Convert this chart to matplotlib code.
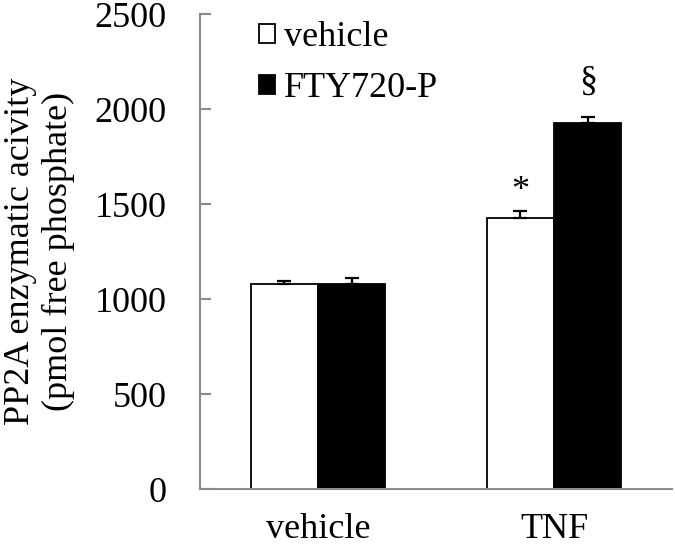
import matplotlib
matplotlib.use("Agg")
import matplotlib.pyplot as plt
import matplotlib.patches as mpatches
import numpy as np

categories = ["vehicle", "TNF"]
series_names = ["vehicle", "FTY720-P"]
vehicle_vals = [1080, 1426]
vehicle_err = [15, 39]
fty_vals = [1080, 1926]
fty_err = [34, 35]
marks_vehicle = ["", "*"]
marks_fty = ["", "§"]
yticks = [0, 500, 1000, 1500, 2000, 2500]

plt.rcParams['font.family'] = ['Liberation Serif', 'DejaVu Serif']
FS = 26
AX_GRAY = '#8a8a8a'

fig = plt.figure(figsize=(6.75, 5.48), dpi=100)
ax = fig.add_axes([200/675, 1-489.3/548, 472/675, (489.3-14.3)/548])

x = np.arange(len(categories))
w = 0.286
ax.bar(x - w/2, vehicle_vals, w, color='white', edgecolor='black', linewidth=1.3, zorder=2)
ax.bar(x + w/2, fty_vals, w, color='black', edgecolor='black', linewidth=1.3, zorder=2)
ax.errorbar(x - w/2, vehicle_vals, yerr=[np.zeros(len(x)), vehicle_err], fmt='none',
            ecolor='black', elinewidth=1.6, capsize=5, capthick=1.6, zorder=3)
ax.errorbar(x + w/2, fty_vals, yerr=[np.zeros(len(x)), fty_err], fmt='none',
            ecolor='black', elinewidth=1.6, capsize=5, capthick=1.6, zorder=3)

for xi, v, e, m in zip(x - w/2, vehicle_vals, vehicle_err, marks_vehicle):
    if m:
        ax.annotate(m, (xi, v + e), xytext=(0, 2), textcoords='offset points',
                    ha='center', va='bottom', fontsize=FS)
for xi, v, e, m in zip(x + w/2, fty_vals, fty_err, marks_fty):
    if m:
        ax.annotate(m, (xi, v + e), xytext=(0, 14), textcoords='offset points',
                    ha='center', va='bottom', fontsize=FS)

ax.set_xlim(-0.5, 1.5)
ax.set_ylim(0, 2500)
ax.set_yticks(yticks)
ax.set_yticklabels([str(t) for t in yticks], fontsize=FS)
ax.set_xticks(x)
ax.set_xticklabels(categories, fontsize=FS)
ax.tick_params(axis='y', direction='in', length=8, width=1.5, color=AX_GRAY, pad=24)
ax.tick_params(axis='x', length=0, pad=17)
for s in ['top', 'right']:
    ax.spines[s].set_visible(False)
for s in ['left', 'bottom']:
    ax.spines[s].set_color(AX_GRAY)
    ax.spines[s].set_linewidth(1.5)

ax.set_ylabel("PP2A enzymatic acivity\n(pmol free phosphate)", fontsize=FS, labelpad=14,
              linespacing=1.2)

handles = [mpatches.Patch(facecolor='white', edgecolor='black', linewidth=1.3),
           mpatches.Patch(facecolor='black', edgecolor='black', linewidth=1.3)]
ax.legend(handles, series_names, loc='upper left', bbox_to_anchor=(0.125, 0.985),
          frameon=False, fontsize=FS, handlelength=0.45, handleheight=0.45,
          handletextpad=0.25, labelspacing=0.5, borderpad=0, borderaxespad=0)

fig.savefig("out.png", dpi=100)
